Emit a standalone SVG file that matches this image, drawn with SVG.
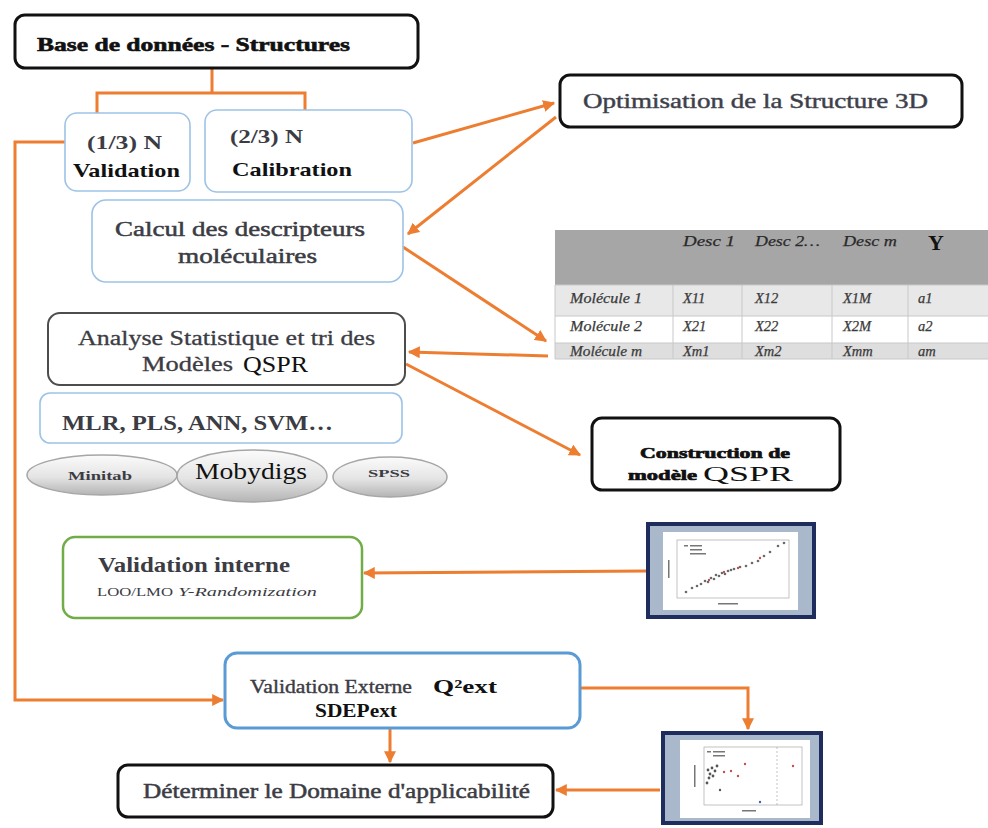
<svg xmlns="http://www.w3.org/2000/svg" width="988" height="828" viewBox="0 0 988 828">
  <defs>
    <marker id="arr" viewBox="0 0 10 10" refX="9" refY="5" markerWidth="4" markerHeight="4" orient="auto" markerUnits="strokeWidth">
      <path d="M0,0 L10,5 L0,10 z" fill="#ed7d31"/>
    </marker>
    <linearGradient id="pill" x1="0" y1="0" x2="0" y2="1">
      <stop offset="0" stop-color="#fbfbfb"/>
      <stop offset="0.55" stop-color="#e4e4e4"/>
      <stop offset="1" stop-color="#b4b4b4"/>
    </linearGradient>
    <style>
      .t { font-family: "Liberation Serif", "Times New Roman", serif; fill: #3c3c44; }
      .b { font-weight: bold; }
      .k { fill: #111; }
      .bx-blue { fill: #fff; stroke: #9dc3e6; stroke-width: 1.6; }
      .bx-black { fill: #fff; stroke: #111; stroke-width: 3; }
      .conn { fill: none; stroke: #ed7d31; stroke-width: 3; }
      .tbl { font-family: "Liberation Serif", "Times New Roman", serif; font-style: italic; font-size: 14.5px; fill: #3a3a3a; stroke: #3a3a3a; stroke-width: 0.25; }
      .hd { font-size: 15.5px; fill: #2a2a2a; stroke: #2a2a2a; }
      .cell { stroke: #c8c8c8; stroke-width: 1; }
      .frame { fill: #aab8cc; stroke: #1f2d5e; stroke-width: 4; }
    </style>
  </defs>

  <rect width="988" height="828" fill="#fff"/>

  <!-- connectors -->
  <g id="connectors">
    <polyline class="conn" points="212,68 212,93"/>
    <polyline class="conn" points="97,115 97,93 305,93 305,112"/>
    <polyline class="conn" points="66,142 15,142 15,700 223,700" marker-end="url(#arr)"/>
    <line class="conn" x1="413" y1="143" x2="554" y2="103" marker-end="url(#arr)"/>
    <line class="conn" x1="556" y1="117" x2="408" y2="234" marker-end="url(#arr)"/>
    <line class="conn" x1="403" y1="247" x2="546" y2="341" marker-end="url(#arr)"/>
    <line class="conn" x1="548" y1="356" x2="409" y2="352" marker-end="url(#arr)"/>
    <line class="conn" x1="406" y1="364" x2="580" y2="455" stroke-width="4" marker-end="url(#arr)"/>
    <line class="conn" x1="646" y1="571" x2="364" y2="573" marker-end="url(#arr)"/>
    <polyline class="conn" points="580,688 748,688 748,729" marker-end="url(#arr)"/>
    <line class="conn" x1="390" y1="729" x2="390" y2="762" marker-end="url(#arr)"/>
    <line class="conn" x1="660" y1="790" x2="556" y2="790" marker-end="url(#arr)"/>
  </g>

  <!-- database -->
  <g id="base">
    <rect class="bx-black" x="15" y="15" width="403" height="53" rx="10"/>
    <text class="t b k" x="37" y="51" font-size="19" textLength="313" lengthAdjust="spacingAndGlyphs" stroke="#111" stroke-width="0.6">Base de données - Structures</text>
  </g>

  <g id="validation-split">
    <rect class="bx-blue" x="65" y="113" width="125" height="78" rx="12"/>
    <text class="t b" x="87" y="149" font-size="18" textLength="75" lengthAdjust="spacingAndGlyphs">(1/3) N</text>
    <text class="t b k" x="73" y="177" font-size="19" textLength="107" lengthAdjust="spacingAndGlyphs">Validation</text>
  </g>

  <g id="calibration-split">
    <rect class="bx-blue" x="205" y="110" width="207" height="82" rx="12"/>
    <text class="t b" x="230" y="143" font-size="18" textLength="73" lengthAdjust="spacingAndGlyphs">(2/3) N</text>
    <text class="t b k" x="232" y="176" font-size="19" textLength="120" lengthAdjust="spacingAndGlyphs">Calibration</text>
  </g>

  <g id="optimisation">
    <rect class="bx-black" x="560" y="75" width="402" height="52" rx="10"/>
    <text class="t" x="583" y="108" font-size="22" textLength="345" lengthAdjust="spacingAndGlyphs" fill="#4a4d5a" stroke="#4a4d5a" stroke-width="0.5">Optimisation de la Structure 3D</text>
  </g>

  <g id="descripteurs">
    <rect class="bx-blue" x="92" y="200" width="311" height="82" rx="14"/>
    <text class="t" x="115" y="236" font-size="21" textLength="250" lengthAdjust="spacingAndGlyphs" stroke="#3c3c44" stroke-width="0.5">Calcul des descripteurs</text>
    <text class="t" x="178" y="263" font-size="21" textLength="139" lengthAdjust="spacingAndGlyphs" stroke="#3c3c44" stroke-width="0.5">moléculaires</text>
  </g>

  <!-- descriptor matrix -->
  <g id="matrix">
    <rect x="555" y="230" width="433" height="55" fill="#a6a6a6"/>
    <rect x="555" y="285" width="433" height="31" fill="#e8e8e8"/>
    <rect x="555" y="316" width="433" height="27" fill="#fff"/>
    <rect x="555" y="343" width="433" height="16" fill="#dedede"/>
    <g class="cell">
      <line x1="555" y1="285" x2="988" y2="285"/>
      <line x1="555" y1="316" x2="988" y2="316"/>
      <line x1="555" y1="343" x2="988" y2="343"/>
      <line x1="555" y1="359" x2="988" y2="359"/>
      <line x1="555" y1="285" x2="555" y2="359"/>
      <line x1="673" y1="285" x2="673" y2="359"/>
      <line x1="742" y1="285" x2="742" y2="359"/>
      <line x1="832" y1="285" x2="832" y2="359"/>
      <line x1="908" y1="285" x2="908" y2="359"/>
    </g>
    <g class="tbl">
      <text class="hd" x="683" y="246" textLength="52" lengthAdjust="spacingAndGlyphs">Desc 1</text>
      <text class="hd" x="755" y="246" textLength="65" lengthAdjust="spacingAndGlyphs">Desc 2…</text>
      <text class="hd" x="843" y="246" textLength="54" lengthAdjust="spacingAndGlyphs">Desc m</text>
      <text x="928" y="250" font-style="normal" font-weight="bold" font-size="22" fill="#111" stroke="none">Y</text>
      <text x="570" y="303" textLength="72" lengthAdjust="spacingAndGlyphs">Molécule 1</text>
      <text x="683" y="303">X11</text>
      <text x="755" y="303">X12</text>
      <text x="843" y="303">X1M</text>
      <text x="918" y="303">a1</text>
      <text x="570" y="331" textLength="72" lengthAdjust="spacingAndGlyphs">Molécule 2</text>
      <text x="683" y="331">X21</text>
      <text x="755" y="331">X22</text>
      <text x="843" y="331">X2M</text>
      <text x="918" y="331">a2</text>
      <text x="570" y="356" textLength="72" lengthAdjust="spacingAndGlyphs">Molécule m</text>
      <text x="683" y="356">Xm1</text>
      <text x="755" y="356">Xm2</text>
      <text x="843" y="356">Xmm</text>
      <text x="918" y="356">am</text>
    </g>
  </g>

  <g id="analyse">
    <rect x="48" y="313" width="357" height="72" rx="12" fill="#fff" stroke="#4d4d4d" stroke-width="2"/>
    <text class="t" x="78" y="345" font-size="20" textLength="297" lengthAdjust="spacingAndGlyphs" stroke="#3c3c44" stroke-width="0.3">Analyse Statistique et tri des</text>
    <text class="t" x="142" y="371" font-size="20" textLength="91" lengthAdjust="spacingAndGlyphs" stroke="#3c3c44" stroke-width="0.3">Modèles</text>
    <text class="t k" x="243" y="372" font-size="23" textLength="65" lengthAdjust="spacingAndGlyphs">QSPR</text>
  </g>

  <g id="methodes">
    <rect class="bx-blue" x="40" y="393" width="362" height="50" rx="10"/>
    <text class="t b" x="62" y="430" font-size="20" textLength="271" lengthAdjust="spacingAndGlyphs">MLR, PLS, ANN, SVM…</text>
  </g>

  <g id="logiciels">
    <ellipse cx="102" cy="475" rx="75" ry="20" fill="url(#pill)" stroke="#a6a6a6" stroke-width="1.5"/>
    <text class="t b" x="68" y="480" font-size="13" textLength="64" lengthAdjust="spacingAndGlyphs" fill="#2a2a2a">Minitab</text>
    <ellipse cx="252" cy="476" rx="75" ry="26" fill="url(#pill)" stroke="#a6a6a6" stroke-width="1.5"/>
    <text class="t k" x="195" y="479" font-size="24" textLength="112" lengthAdjust="spacingAndGlyphs">Mobydigs</text>
    <ellipse cx="390" cy="477" rx="57" ry="20" fill="url(#pill)" stroke="#a6a6a6" stroke-width="1.5"/>
    <text class="t b" x="368" y="477" font-size="11" textLength="42" lengthAdjust="spacingAndGlyphs" fill="#2a2a2a">SPSS</text>
  </g>

  <g id="construction">
    <rect class="bx-black" x="592" y="418" width="248" height="72" rx="10"/>
    <text class="t b k" x="640" y="458" font-size="15" textLength="150" lengthAdjust="spacingAndGlyphs" stroke="#111" stroke-width="0.7">Construction de</text>
    <text class="t b k" x="628" y="480" font-size="15" textLength="69" lengthAdjust="spacingAndGlyphs" stroke="#111" stroke-width="0.7">modèle</text>
    <text class="t k" x="703" y="481" font-size="21" textLength="90" lengthAdjust="spacingAndGlyphs">QSPR</text>
  </g>

  <g id="validation-interne">
    <rect x="63" y="537" width="299" height="81" rx="12" fill="#fff" stroke="#70ad47" stroke-width="2.5"/>
    <text class="t b" x="98" y="572" font-size="21" textLength="192" lengthAdjust="spacingAndGlyphs">Validation interne</text>
    <text class="t" x="97" y="596" font-size="13" textLength="76" lengthAdjust="spacingAndGlyphs">LOO/LMO</text>
    <text class="t" x="178" y="596" font-size="13" font-style="italic" textLength="139" lengthAdjust="spacingAndGlyphs">Y-Randomization</text>
  </g>

  <!-- internal validation plot -->
  <g id="graphe-interne">
    <rect class="frame" x="648" y="524" width="166" height="93"/>
    <rect x="663" y="532" width="135" height="78" fill="#fff"/>
    <g stroke="#9a9a9a" stroke-width="0.6" fill="none">
      <rect x="677" y="540" width="112" height="58"/>
    </g>
    <g fill="#777">
      <rect x="684" y="545" width="4" height="1.5"/>
      <rect x="690" y="545" width="12" height="1.5"/>
      <rect x="690" y="549" width="12" height="1.5"/>
      <rect x="690" y="553" width="16" height="1.5"/>
      <rect x="668" y="560" width="1.5" height="18"/>
      <rect x="718" y="603" width="20" height="1.5"/>
    </g>
    <g fill="#6a6a6a">
      <circle cx="686" cy="592" r="1.3"/><circle cx="692" cy="588" r="1.3"/><circle cx="697" cy="586" r="1.3"/>
      <circle cx="701" cy="584" r="1.3"/><circle cx="705" cy="581" r="1.3"/><circle cx="708" cy="582" r="1.3"/>
      <circle cx="711" cy="578" r="1.3"/><circle cx="714" cy="579" r="1.3"/><circle cx="716" cy="575" r="1.3"/>
      <circle cx="719" cy="576" r="1.3"/><circle cx="722" cy="573" r="1.3"/><circle cx="725" cy="574" r="1.3"/>
      <circle cx="728" cy="571" r="1.3"/><circle cx="731" cy="570" r="1.3"/><circle cx="734" cy="569" r="1.3"/>
      <circle cx="740" cy="567" r="1.3"/><circle cx="746" cy="566" r="1.3"/><circle cx="752" cy="563" r="1.3"/>
      <circle cx="758" cy="561" r="1.3"/><circle cx="764" cy="556" r="1.3"/><circle cx="770" cy="552" r="1.3"/>
      <circle cx="778" cy="546" r="1.3"/><circle cx="784" cy="543" r="1.3"/>
    </g>
    <g fill="#c05050">
      <circle cx="709" cy="580" r="1.2"/><circle cx="724" cy="572" r="1.2"/><circle cx="738" cy="568" r="1.2"/><circle cx="760" cy="558" r="1.2"/>
    </g>
  </g>

  <g id="validation-externe">
    <rect x="225" y="653" width="355" height="75" rx="12" fill="#fff" stroke="#5b9bd5" stroke-width="3"/>
    <text class="t" x="250" y="693" font-size="19" textLength="162" lengthAdjust="spacingAndGlyphs" stroke="#3c3c44" stroke-width="0.4">Validation Externe</text>
    <text class="t b k" x="433" y="693" font-size="19" textLength="64" lengthAdjust="spacingAndGlyphs">Q²ext</text>
    <text class="t b k" x="315" y="717" font-size="19" textLength="82" lengthAdjust="spacingAndGlyphs">SDEPext</text>
  </g>

  <g id="domaine">
    <rect class="bx-black" x="118" y="765" width="435" height="52" rx="10"/>
    <text class="t" x="143" y="798" font-size="21" textLength="387" lengthAdjust="spacingAndGlyphs" stroke="#3c3c44" stroke-width="0.5">Déterminer le Domaine d'applicabilité</text>
  </g>

  <!-- applicability domain plot -->
  <g id="graphe-domaine">
    <rect class="frame" x="663" y="733" width="158" height="90"/>
    <rect x="680" y="740" width="130" height="78" fill="#fff"/>
    <g stroke="#9a9a9a" stroke-width="0.6" fill="none">
      <rect x="704" y="747" width="98" height="58"/>
      <line x1="777" y1="747" x2="777" y2="805" stroke-dasharray="2,2"/>
    </g>
    <g fill="#777">
      <rect x="707" y="751" width="4" height="1.5"/>
      <rect x="713" y="751" width="12" height="1.5"/>
      <rect x="713" y="755" width="12" height="1.5"/>
      <rect x="694" y="765" width="1.5" height="22"/>
      <rect x="742" y="810" width="14" height="1.5"/>
    </g>
    <g fill="#555">
      <circle cx="708" cy="770" r="1.4"/><circle cx="710" cy="774" r="1.4"/><circle cx="712" cy="768" r="1.4"/>
      <circle cx="709" cy="778" r="1.4"/><circle cx="713" cy="776" r="1.4"/><circle cx="715" cy="771" r="1.4"/>
      <circle cx="707" cy="783" r="1.4"/><circle cx="717" cy="766" r="1.4"/><circle cx="720" cy="790" r="1.2"/>
    </g>
    <g fill="#c05050">
      <circle cx="724" cy="772" r="1.2"/><circle cx="731" cy="771" r="1.2"/><circle cx="738" cy="776" r="1.2"/>
      <circle cx="745" cy="764" r="1.2"/><circle cx="793" cy="766" r="1.2"/>
    </g>
    <circle cx="760" cy="802" r="1.2" fill="#4a5fa8"/>
  </g>
</svg>
